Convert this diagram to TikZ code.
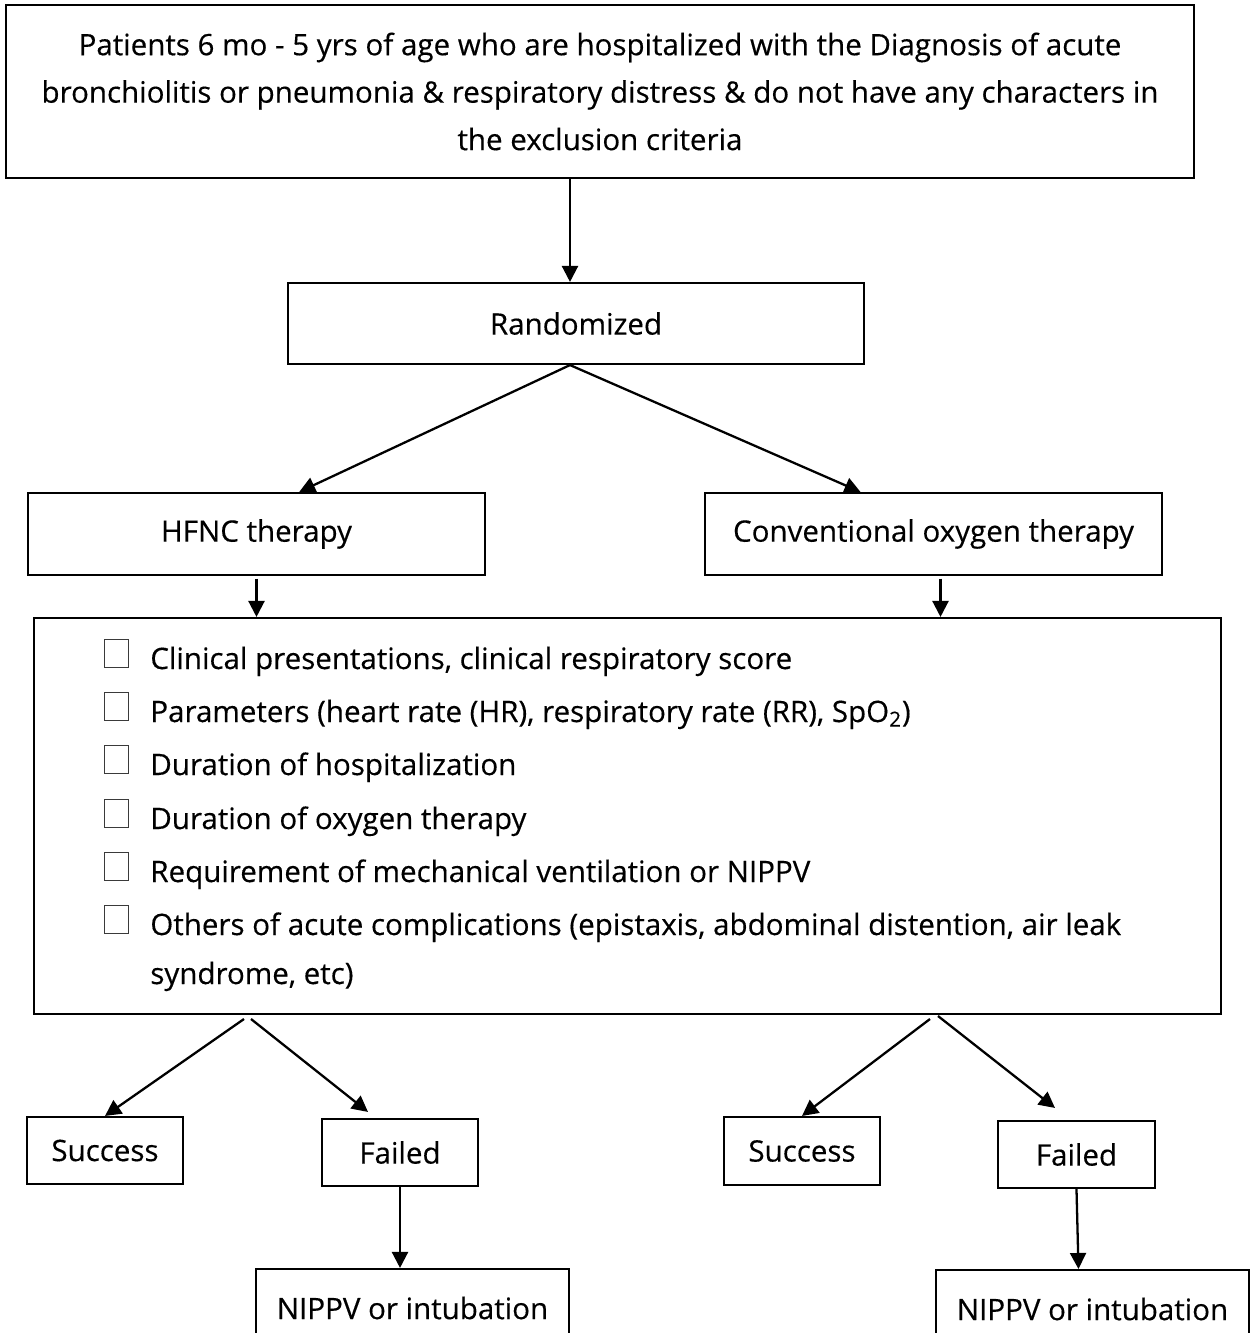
\documentclass[tikz,border=0pt]{standalone}
\usepackage{fontspec}
\setmainfont{Open Sans}[FakeBold=0.35]
\usepackage{tikz}
\usetikzlibrary{
  arrows.meta,
  positioning,
  calc
}
\definecolor{boxline}{HTML}{000000}
\definecolor{chkline}{HTML}{3A3A3A}
\definecolor{textdark}{HTML}{000000}
\tikzset{
  flowbox/.style={
    draw=boxline, line width=1.2pt, fill=white,
    font=\fontsize{16.8}{27}\selectfont, text=textdark,
    align=center, inner sep=0pt,
  },
  chkbox/.style={
    draw=chkline, line width=0.6pt,
    minimum width=0.48cm, minimum height=0.56cm,
    inner sep=0pt, anchor=south west,
  },
  itemtext/.style={
    font=\fontsize{16.8}{27}\selectfont, text=textdark,
    anchor=base west, inner sep=0pt,
  },
  flowarrow/.style={
    -{Triangle[length=3.2mm,width=3.2mm]}, line width=1.3pt,
  },
}

\begin{document}
\begin{tikzpicture}

  \useasboundingbox (0,0) rectangle (25.02,-26.66);
  \fill[white] (0,0) rectangle (25.02,-26.66);
  \clip (0,0) rectangle (25.02,-26.66);

  % ─── Enrolment ───────────────────────────────────────────────────────
  \node[flowbox, minimum width=23.76cm, minimum height=3.46cm]
    (top) at (12.00,-1.83)
    {Patients 6 mo - 5 yrs of age who are hospitalized with the Diagnosis of acute\\
     bronchiolitis or pneumonia \& respiratory distress \& do not have any characters in\\
     the exclusion criteria};

  \node[flowbox, minimum width=11.52cm, minimum height=1.62cm]
    (rand) at (11.52,-6.47) {Randomized};

  \draw[flowarrow] ([xshift=-1.2mm]rand.north |- top.south)
    -- ([xshift=-1.2mm]rand.north);

  % ─── Two arms ────────────────────────────────────────────────────────
  \node[flowbox, minimum width=9.14cm, minimum height=1.64cm]
    (hfnc) at (5.13,-10.68) {HFNC therapy};
  \node[flowbox, minimum width=9.14cm, minimum height=1.64cm]
    (conv) at (18.67,-10.68) {Conventional oxygen therapy};

  \coordinate (randapex) at ([xshift=-1.2mm]rand.south);
  \draw[flowarrow] (randapex)
    -- ($(hfnc.north west)!0.593!(hfnc.north east)$);
  \draw[flowarrow] (randapex)
    -- ($(conv.north west)!0.341!(conv.north east)$);

  % ─── Outcome measures ────────────────────────────────────────────────
  \node[flowbox, minimum width=23.74cm, minimum height=7.92cm]
    (outcomes) at (12.55,-16.32) {};

  \draw[flowarrow] ([yshift=-0.5mm]hfnc.south) -- (hfnc.south |- outcomes.north);
  \draw[flowarrow] ([xshift=1.4mm,yshift=-0.5mm]conv.south)
    -- ([xshift=1.4mm]conv.south |- outcomes.north);

  \node[chkbox] (chk1) at (2.08,-13.36) {};
  \node[itemtext] (item1) at (3.00,-13.38)
    {Clinical presentations, clinical respiratory score};
  \node[chkbox] (chk2) at (2.08,-14.42) {};
  \node[itemtext] (item2) at (3.00,-14.44)
    {Parameters (heart rate (HR), respiratory rate (RR), SpO\textsubscript{2})};
  \node[chkbox] (chk3) at (2.08,-15.48) {};
  \node[itemtext] (item3) at (3.00,-15.50) {Duration of hospitalization};
  \node[chkbox] (chk4) at (2.08,-16.56) {};
  \node[itemtext] (item4) at (3.00,-16.58) {Duration of oxygen therapy};
  \node[chkbox] (chk5) at (2.08,-17.62) {};
  \node[itemtext] (item5) at (3.00,-17.64)
    {Requirement of mechanical ventilation or NIPPV};
  \node[chkbox] (chk6) at (2.08,-18.68) {};
  \node[itemtext] (item6) at (3.00,-18.70)
    {Others of acute complications (epistaxis, abdominal distention, air leak};
  \node[itemtext] (item6b) at (3.00,-19.68) {syndrome, etc)};

  % ─── Results per arm ─────────────────────────────────────────────────
  \node[flowbox, minimum width=3.12cm, minimum height=1.34cm]
    (succL) at (2.10,-23.01) {Success};
  \node[flowbox, minimum width=3.12cm, minimum height=1.34cm]
    (failL) at (8.00,-23.05) {Failed};
  \node[flowbox, minimum width=3.12cm, minimum height=1.36cm]
    (succR) at (16.04,-23.02) {Success};
  \node[flowbox, minimum width=3.14cm, minimum height=1.34cm]
    (failR) at (21.53,-23.09) {Failed};

  \coordinate (splitL1) at (4.88,-20.38);
  \coordinate (splitL2) at (5.02,-20.38);
  \coordinate (splitR1) at (18.60,-20.38);
  \coordinate (splitR2) at (18.76,-20.32);

  \draw[flowarrow] (splitL1) -- (succL.north);
  \draw[flowarrow] (splitL2) -- ([xshift=-6.4mm,yshift=1.2mm]failL.north);
  \draw[flowarrow] (splitR1) -- (succR.north);
  \draw[flowarrow] (splitR2) -- ([xshift=-4.3mm,yshift=2.4mm]failR.north);

  % ─── Rescue ventilation ──────────────────────────────────────────────
  \node[flowbox, minimum width=6.26cm, minimum height=1.56cm]
    (nipL) at (8.25,-26.16) {NIPPV or intubation};
  \node[flowbox, minimum width=6.26cm, minimum height=1.56cm]
    (nipR) at (21.85,-26.18) {NIPPV or intubation};

  \draw[flowarrow] (failL.south) -- (failL.south |- nipL.north);
  \draw[flowarrow] (failR.south) -- ([xshift=0.4mm]failR.south |- nipR.north);

\end{tikzpicture}
\end{document}
